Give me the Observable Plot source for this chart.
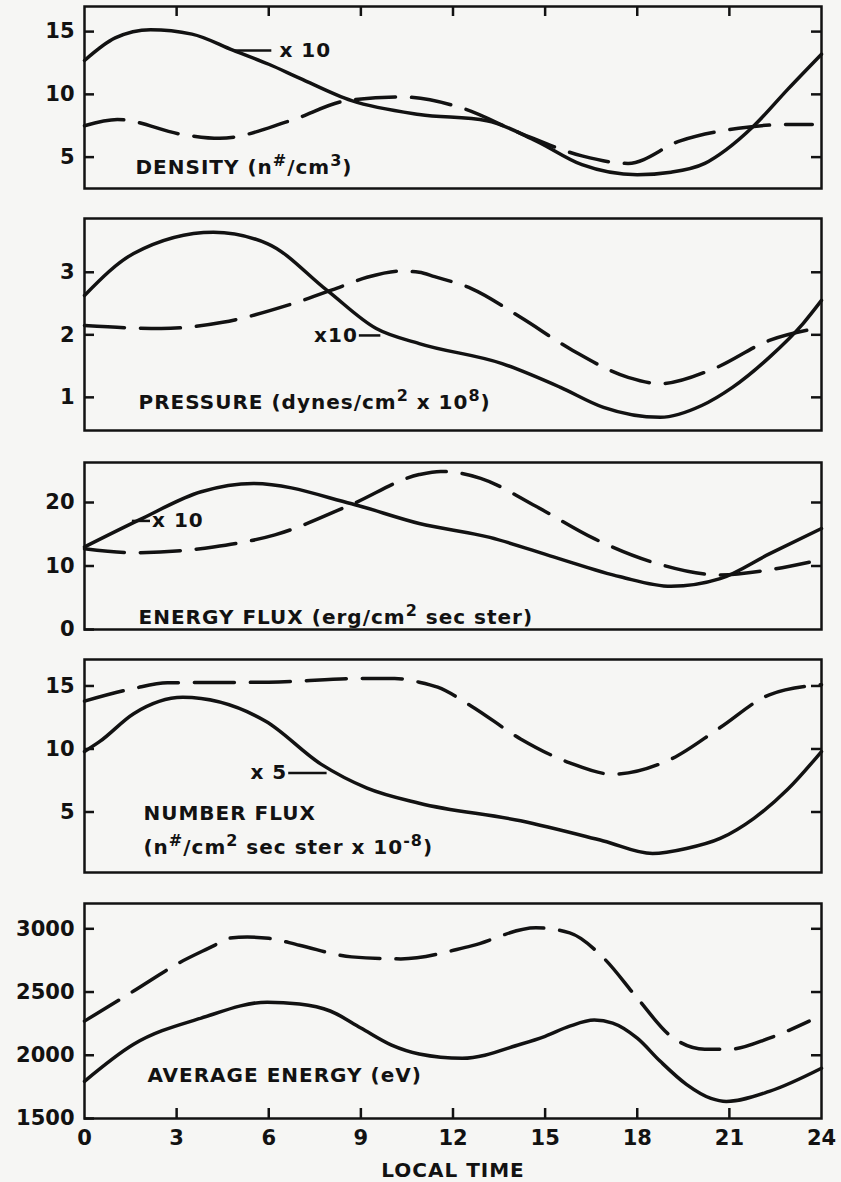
<!DOCTYPE html>
<html>
<head>
<meta charset="utf-8">
<script src="https://cdn.jsdelivr.net/npm/d3@7"></script>
<script src="https://cdn.jsdelivr.net/npm/@observablehq/plot@0.6"></script>
<style>
  html, body { margin: 0; padding: 0; background: #f6f6f4; }
  #chart { position: relative; width: 841px; height: 1182px; background: #f6f6f4; }
  #chart svg { position: absolute; left: 0; overflow: visible; }
  #chart g[aria-label="text"] text { letter-spacing: 1px; }
</style>
</head>
<body>
<div id="chart"></div>
<script>
// ---- Local-time axis ----
const hourTicks = [0, 3, 6, 9, 12, 15, 18, 21, 24];
const innerHourTicks = [3, 6, 9, 12, 15, 18, 21];

// ---- Density (n#/cm3); solid curve is scaled x10 ----
const densityTicks = [5, 10, 15];
const densitySolidT = [0, 1.0, 2.15, 3.5, 4.85, 6.0, 7.0, 8.7, 10.9, 13.1, 14.7, 16.2, 18.0, 19.1, 20.2, 20.9, 21.8, 22.9, 24];
const densitySolidV = [12.7, 14.5, 15.15, 14.8, 13.5, 12.4, 11.3, 9.5, 8.4, 7.9, 6.3, 4.4, 3.6, 3.8, 4.5, 5.6, 7.5, 10.4, 13.2];
const densityDashT = [0, 1.07, 3.2, 4.4, 6.7, 8.55, 10.3, 12.3, 14.2, 16.2, 17.7, 19.4, 21.3, 22.9, 23.7];
const densityDashV = [7.5, 8.0, 6.8, 6.5, 7.9, 9.5, 9.8, 8.9, 6.9, 5.1, 4.5, 6.3, 7.3, 7.6, 7.6];

// ---- Pressure (dynes/cm2 x 10^8); solid curve scaled x10 ----
const pressureTicks = [1, 2, 3];
const pressureSolidT = [0, 1.6, 4.2, 5.95, 7.9, 9.5, 10.9, 13.6, 15.5, 16.9, 18.75, 20.1, 21.1, 22.3, 23.4, 24];
const pressureSolidV = [2.63, 3.3, 3.64, 3.46, 2.71, 2.1, 1.86, 1.54, 1.16, 0.84, 0.68, 0.87, 1.16, 1.64, 2.18, 2.55];
const pressureDashT = [0, 2.5, 4.5, 6.6, 8.3, 9.2, 10.3, 10.9, 11.4, 12.6, 14.2, 15.9, 17.7, 18.75, 20.5, 22.3, 23.8];
const pressureDashV = [2.15, 2.1, 2.2, 2.47, 2.76, 2.92, 3.02, 3.0, 2.93, 2.74, 2.28, 1.75, 1.32, 1.22, 1.46, 1.91, 2.1];

// ---- Energy flux (erg/cm2 sec ster); solid curve scaled x10 ----
const energyFluxTicks = [0, 10, 20];
const energyFluxSolidT = [0, 1.8, 3.8, 5.5, 8.7, 10.9, 13.2, 15.3, 17.45, 19.1, 20.7, 22.3, 24];
const energyFluxSolidV = [13.0, 17.3, 21.7, 23.0, 19.8, 16.7, 14.5, 11.4, 8.3, 6.8, 8.0, 11.9, 15.9];
const energyFluxDashT = [0, 1.6, 4.2, 6.2, 8.7, 10.9, 11.6, 12.9, 14.7, 16.6, 18.5, 20.7, 22.3, 23.6];
const energyFluxDashV = [12.7, 12.1, 13.0, 14.9, 19.7, 24.4, 24.9, 23.8, 19.4, 14.3, 10.6, 8.6, 9.4, 10.6];

// ---- Number flux (n#/cm2 sec ster x 10^-8); solid curve scaled x5 ----
const numberFluxTicks = [5, 10, 15];
const numberFluxSolidT = [0, 0.5, 1.6, 3.2, 5.9, 7.7, 9.2, 10.9, 14.2, 16.9, 18.5, 19.6, 20.7, 21.8, 22.9, 24];
const numberFluxSolidV = [9.8, 10.6, 12.8, 14.1, 12.2, 8.8, 6.9, 5.7, 4.3, 2.7, 1.7, 2.1, 2.9, 4.5, 6.8, 9.8];
const numberFluxDashT = [0, 1.6, 2.7, 6.0, 9.2, 10.1, 10.9, 11.5, 12.6, 14.2, 15.8, 17.2, 19.1, 20.7, 22.3, 24];
const numberFluxDashV = [13.8, 14.8, 15.25, 15.3, 15.6, 15.6, 15.3, 14.9, 13.4, 10.8, 8.9, 8.0, 9.2, 11.7, 14.3, 15.1];

// ---- Average energy (eV) ----
const avgEnergyTicks = [1500, 2000, 2500, 3000];
const avgEnergySolidT = [0, 1.6, 3.8, 5.95, 7.0, 8.0, 9.0, 10.0, 10.9, 12.3, 14.2, 15.0, 15.8, 16.6, 17.2, 18.0, 18.75, 19.6, 20.4, 20.9, 22.3, 24];
const avgEnergySolidV = [1794, 2087, 2294, 2420, 2405, 2350, 2215, 2080, 2010, 1976, 2087, 2150, 2230, 2278, 2254, 2135, 1952, 1770, 1659, 1635, 1714, 1897];
const avgEnergyDashT = [0, 1.6, 3.1, 4.2, 4.7, 5.3, 6.0, 7.0, 8.7, 10.3, 12.6, 14.7, 15.8, 16.9, 18.0, 19.1, 20.2, 21.0, 22.3, 23.6];
const avgEnergyDashV = [2270, 2508, 2733, 2865, 2925, 2935, 2925, 2870, 2778, 2762, 2865, 3008, 2968, 2770, 2452, 2150, 2048, 2048, 2135, 2270];

// ---- Panel captions and scale notes ----
const densityLabel = "DENSITY (n^{#}/cm^{3})";
const pressureLabel = "PRESSURE (dynes/cm^{2} x 10^{8})";
const energyFluxLabel = "ENERGY FLUX (erg/cm^{2} sec ster)";
const numberFluxLabel1 = "NUMBER FLUX";
const numberFluxLabel2 = "(n^{#}/cm^{2} sec ster x 10^{-8})";
const avgEnergyLabel = "AVERAGE ENERGY (eV)";
const xAxisLabel = "LOCAL TIME";

// ---- Drawing ----
const INK = "#121212";
const FONT = "'DejaVu Sans', 'Liberation Sans', sans-serif";
const W = 841, ML = 84, MR = 20, IW = W - ML - MR;
const TICK = 10;
const chart = document.getElementById("chart");

const rows = (t, v) => t.map((ti, i) => ({t: ti, v: v[i]}));

function curve(t, v, dashed) {
  return Plot.line(rows(t, v), {
    x: "t", y: "v", curve: "monotone-x",
    stroke: INK, strokeWidth: 3.5,
    strokeDasharray: dashed ? "40,16" : undefined
  });
}

function note(text, x, y, anchor = "start") {
  return Plot.text([text], {
    x, y, text: (d) => d, textAnchor: anchor, lineAnchor: "middle",
    fontSize: 20, fontWeight: "bold", fill: INK
  });
}

function leader(y, x1, x2) {
  return Plot.ruleY([y], {x1, x2, stroke: INK, strokeWidth: 2.5});
}

// Rebuild "^{...}" runs as raised tspans
function superscripts(svg) {
  d3.select(svg).selectAll("text").each(function () {
    const s = this.textContent;
    if (!s.includes("^{")) return;
    const parts = s.split(/(\^\{[^}]*\})/).filter((p) => p);
    const el = d3.select(this);
    el.text(null);
    let raised = false;
    for (const p of parts) {
      if (p.startsWith("^{")) {
        el.append("tspan").attr("dy", raised ? 0 : -8).attr("font-size", 16).text(p.slice(2, -1));
        raised = true;
      } else {
        el.append("tspan").attr("dy", raised ? 8 : 0).text(p);
        raised = false;
      }
    }
  });
}

function panel(cfg) {
  const ih = cfg.height - cfg.mt - cfg.mb;
  const marks = [
    ...cfg.lines,
    // inward ticks on the left and right edges
    Plot.ruleY(cfg.yTicks, {insetRight: IW - TICK, stroke: INK, strokeWidth: 2.5}),
    Plot.ruleY(cfg.rightTicks, {insetLeft: IW - TICK, stroke: INK, strokeWidth: 2.5}),
    Plot.axisY(cfg.yTicks, {tickSize: 0, tickPadding: 10, label: null, tickFormat: (d) => String(d), fontSize: 21, fontWeight: "bold", fill: INK}),
    Plot.frame({stroke: INK, strokeWidth: 2.5}),
    ...cfg.notes
  ];
  if (cfg.topTicks) marks.push(Plot.ruleX(innerHourTicks, {insetBottom: ih - TICK, stroke: INK, strokeWidth: 2.5}));
  if (cfg.bottomAxis) {
    marks.push(Plot.ruleX(innerHourTicks, {insetTop: ih - TICK, stroke: INK, strokeWidth: 2.5}));
    marks.push(Plot.axisX(hourTicks, {anchor: "bottom", tickSize: 0, tickPadding: 12, label: null, tickFormat: (d) => String(d), fontSize: 21, fontWeight: "bold", fill: INK}));
    marks.push(Plot.text([xAxisLabel], {frameAnchor: "bottom", dy: 52, text: (d) => d, fontSize: 20, fontWeight: "bold", fill: INK, lineAnchor: "middle"}));
  }
  const svg = Plot.plot({
    width: W, height: cfg.height,
    marginLeft: ML, marginRight: MR, marginTop: cfg.mt, marginBottom: cfg.mb,
    x: cfg.bottomAxis ? {domain: [0, 24]} : {domain: [0, 24], axis: null},
    y: {domain: cfg.yDomain},
    style: {background: "transparent", fontFamily: FONT, fontWeight: "bold", color: INK, fontSize: "20px"},
    marks
  });
  superscripts(svg);
  svg.style.top = cfg.top + "px";
  chart.appendChild(svg);
}

panel({
  top: 0, height: 200, mt: 6, mb: 12, yDomain: [2.5, 17],
  yTicks: densityTicks, rightTicks: densityTicks, topTicks: true,
  lines: [curve(densitySolidT, densitySolidV, false), curve(densityDashT, densityDashV, true)],
  notes: [note(densityLabel, 1.66, 4.2), leader(13.5, 4.85, 6.1), note("x 10", 6.35, 13.5)]
});

panel({
  top: 200, height: 240, mt: 18, mb: 10, yDomain: [0.47, 3.86],
  yTicks: pressureTicks, rightTicks: pressureTicks,
  lines: [curve(pressureSolidT, pressureSolidV, false), curve(pressureDashT, pressureDashV, true)],
  notes: [note(pressureLabel, 1.76, 0.92), note("x10", 8.9, 1.99, "end"), leader(1.99, 8.95, 9.65)]
});

panel({
  top: 440, height: 200, mt: 22, mb: 11, yDomain: [0, 26.3],
  yTicks: energyFluxTicks, rightTicks: [10, 20],
  lines: [curve(energyFluxSolidT, energyFluxSolidV, false), curve(energyFluxDashT, energyFluxDashV, true)],
  notes: [note(energyFluxLabel, 1.76, 1.9), leader(17.1, 1.56, 2.15), note("x 10", 2.2, 17.1)]
});

panel({
  top: 640, height: 240, mt: 19, mb: 8, yDomain: [0.2, 17.1],
  yTicks: numberFluxTicks, rightTicks: numberFluxTicks,
  lines: [curve(numberFluxSolidT, numberFluxSolidV, false), curve(numberFluxDashT, numberFluxDashV, true)],
  notes: [note(numberFluxLabel1, 1.92, 4.9), note(numberFluxLabel2, 1.92, 2.15), note("x 5", 6.6, 8.1, "end"), leader(8.1, 6.65, 7.9)]
});

panel({
  top: 880, height: 302, mt: 23, mb: 64, yDomain: [1500, 3200],
  yTicks: avgEnergyTicks, rightTicks: [2000, 2500, 3000], bottomAxis: true,
  lines: [curve(avgEnergySolidT, avgEnergySolidV, false), curve(avgEnergyDashT, avgEnergyDashV, true)],
  notes: [note(avgEnergyLabel, 2.05, 1841)]
});
</script>
</body>
</html>
